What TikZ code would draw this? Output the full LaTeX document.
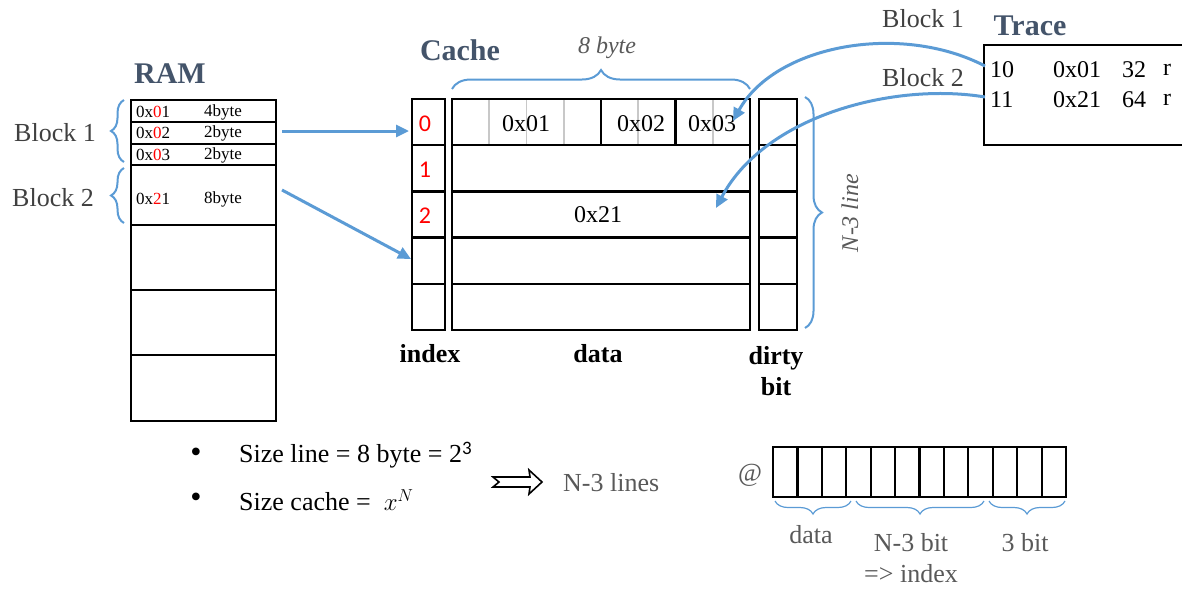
\documentclass[tikz,border=0pt]{standalone}
\usepackage{fontspec}
\setmainfont{Liberation Serif}
\newfontfamily\sansf{Carlito}
\usetikzlibrary{decorations.pathreplacing,calc,arrows.meta}
\definecolor{slate}{HTML}{44546A}
\definecolor{brblue}{HTML}{5B9BD5}
\definecolor{dgray}{HTML}{404040}
\definecolor{mgray}{HTML}{595959}
\definecolor{lgray}{HTML}{C8C8C8}
\newcommand\fsz[2]{\fontsize{#1}{#2}\selectfont}
\newcommand\rd[1]{\textcolor{red}{#1}}
\begin{document}
\begin{tikzpicture}[x=1pt,y=-1pt,
  box/.style={draw, line width=2.5pt, inner sep=0pt, outer sep=0pt, anchor=north west},
  rbox/.style={draw, line width=2.2pt, inner sep=0pt, outer sep=0pt, anchor=north west, minimum width=145},
  title/.style={font=\fsz{30}{34}\bfseries, text=slate, inner sep=0pt},
  lbl/.style={font=\fsz{26}{30}, text=dgray, inner sep=0pt},
  glbl/.style={font=\fsz{26}{30}, text=mgray, inner sep=0pt},
  hdr/.style={font=\fsz{26}{30}\bfseries, inner sep=0pt},
  val/.style={font=\fsz{24}{28}, inner sep=0pt},
  small/.style={font=\fsz{17}{19}, inner sep=0pt, anchor=west},
  trc/.style={font=\fsz{24}{28}, inner sep=0pt, anchor=west},
  idxl/.style={font=\sansf\fsz{24}{28}, text=red, inner sep=0pt},
  conn/.style={brblue, line width=3pt, -{Triangle[length=13pt,width=12pt]}},
  brc/.style={brblue, line width=2pt, decorate, decoration={brace, amplitude=#1}},
  bitbox/.style={draw, line width=2.2pt, inner sep=0pt, outer sep=0pt, anchor=north west, minimum width=24.42, minimum height=50}
]
\useasboundingbox (0,0) rectangle (1182,590);

% ---------------- RAM ----------------
\node[title] (ramt) at (170,74) {RAM};
\node[rbox, minimum height=22] (r1) at (131,100) {};
\node[rbox, minimum height=22] (r2) at (131,122) {};
\node[rbox, minimum height=21] (r3) at (131,144) {};
\node[rbox, minimum height=60] (r4) at (131,165) {};
\node[rbox, minimum height=65] (r5) at (131,225) {};
\node[rbox, minimum height=65] (r6) at (131,290) {};
\node[rbox, minimum height=66] (r7) at (131,355) {};
\node[small] (r1a) at (136,112) {0x\rd{0}1};
\node[small] (r1b) at (204,112) {4byte};
\node[small] (r2a) at (136,133) {0x\rd{0}2};
\node[small] (r2b) at (204,133) {2byte};
\node[small] (r3a) at (136,155) {0x\rd{0}3};
\node[small] (r3b) at (204,155) {2byte};
\node[small] (r4a) at (136,199) {0x\rd{2}1};
\node[small] (r4b) at (204,199) {8byte};

\coordinate (b1s) at (124,162);
\coordinate (b1e) at (124,100);
\coordinate (b2s) at (124,223);
\coordinate (b2e) at (124,168);
\draw[brc=13] (b1s) -- (b1e);
\draw[brc=13] (b2s) -- (b2e);
\node[lbl] (bl1) at (55,133) {Block 1};
\node[lbl] (bl2) at (53,198) {Block 2};

% ---------------- Cache ----------------
\node[title] (cachet) at (460,50) {Cache};
\node[font=\fsz{24}{28}\itshape, text=mgray, inner sep=0pt] (eightb) at (607,48) {8 byte};
\foreach \i in {0,...,4}{
  \node[box, minimum width=33, minimum height=46.2] (idx\i) at ({412},{99+46.2*\i}) {};
  \node[box, minimum width=298, minimum height=46.2] (dat\i) at ({452},{99+46.2*\i}) {};
  \node[box, minimum width=38, minimum height=46.2] (dir\i) at ({759},{99+46.2*\i}) {};
}
\foreach \k in {1,2,3,5,7}
  \draw[lgray, line width=1.6pt] ($(dat0.north west)+(37.25*\k,1.3)$) -- ($(dat0.south west)+(37.25*\k,-1.3)$);
\foreach \k in {4,6}
  \draw[black, line width=2.4pt] ($(dat0.north west)+(37.25*\k,0)$) -- ($(dat0.south west)+(37.25*\k,0)$);
\node[val] (v01) at (526,124) {0x01};
\node[val] (v02) at (641,124) {0x02};
\node[val] (v03) at (712,124) {0x03};
\node[val] (v21) at (598,215) {0x21};
\node[idxl] (i0) at (425,124) {0};
\node[idxl] (i1) at (425,170) {1};
\node[idxl] (i2) at (425,216) {2};
\node[hdr] (hidx) at (430,354) {index};
\node[hdr] (hdat) at (598,354) {data};
\node[hdr, align=center, font=\fsz{26}{31}\bfseries] (hdir) at (776,371) {dirty\\bit};

\coordinate (tbs) at (452,89);
\coordinate (tbe) at (750,89);
\draw[brc=19] (tbs) -- (tbe);
\coordinate (nbs) at (805,97);
\coordinate (nbe) at (805,328);
\draw[brc=17] (nbs) -- (nbe);
\node[font=\fsz{24}{28}\itshape, text=mgray, inner sep=0pt, rotate=90] (nline) at (850,213) {N-3 line};

% ---------------- Trace ----------------
\node[title] (tracet) at (1030,26) {Trace};
\node[draw, line width=2.5pt, inner sep=0pt, outer sep=0pt, anchor=north west, minimum width=230, minimum height=100] (trace) at (984,45) {};
\node[trc] (t1a) at (990,70) {10};
\node[trc] (t1b) at (1053,70) {0x01};
\node[trc] (t1c) at (1122,70) {32};
\node[trc] (t1d) at (1163,70) {r};
\node[trc] (t2a) at (990,100) {11};
\node[trc] (t2b) at (1053,100) {0x21};
\node[trc] (t2c) at (1122,100) {64};
\node[trc] (t2d) at (1163,100) {r};
\node[lbl] (tb1) at (923,19) {Block 1};
\node[lbl] (tb2) at (923,78) {Block 2};

% ---------------- connectors ----------------
\coordinate (a1s) at (282,131);
\coordinate (a1e) at (409,131);
\coordinate (a2s) at (282,190);
\coordinate (a2e) at (411,259);
\coordinate (a3s) at (985,66);
\coordinate (a3e) at (733,121);
\coordinate (a4s) at (985,97);
\coordinate (a4e) at (716,208);
\draw[conn] (a1s) -- (a1e);
\draw[conn] (a2s) -- (a2e);
\draw[conn] (a3s) .. controls (900,22) and (775,45) .. (a3e);
\draw[conn] (a4s) .. controls (895,82) and (765,115) .. (a4e);

% ---------------- bottom ----------------
\node[font=\fsz{32}{36}, inner sep=0pt] (bul1) at (196,455) {•};
\node[font=\fsz{32}{36}, inner sep=0pt] (bul2) at (196,500) {•};
\node[font=\fsz{26}{30}, inner sep=0pt, anchor=west] (s1) at (239,455) {Size line = 8 byte = 2\raisebox{8pt}{\fsz{19}{21}\sansf 3}};
\node[font=\fsz{26}{30}, inner sep=0pt, anchor=west] (s2) at (239,500) {Size cache = \ $x^{N}$};
\coordinate (das) at (493,477);
\draw[line width=1.6pt, line join=miter] (das) -- (530,477) -- (529,470) -- (542,482) -- (529,494) -- (530,487) -- (493,487) -- (499,482) -- cycle;
\node[glbl, anchor=west] (nlines) at (563,483) {N-3 lines};

\node[glbl] (at) at (750,475) {@};
\foreach \j in {0,...,11}
  \node[bitbox] (bit\j) at ({773+24.42*\j},447) {};
\coordinate (d1s) at (851,501);
\coordinate (d1e) at (775,501);
\coordinate (d2s) at (984,501);
\coordinate (d2e) at (856,501);
\coordinate (d3s) at (1065,501);
\coordinate (d3e) at (989,501);
\draw[brblue, line width=1.2pt, decorate, decoration={brace, amplitude=13}] (d1s) -- (d1e);
\draw[brblue, line width=1.2pt, decorate, decoration={brace, amplitude=13}] (d2s) -- (d2e);
\draw[brblue, line width=1.2pt, decorate, decoration={brace, amplitude=13}] (d3s) -- (d3e);
\node[glbl] (ldata) at (811,535) {data};
\node[glbl] (lnb) at (911,543) {N-3 bit};
\node[glbl] (lidx) at (911,574) {=> index};
\node[glbl] (l3b) at (1025,543) {3 bit};
\end{tikzpicture}
\end{document}
